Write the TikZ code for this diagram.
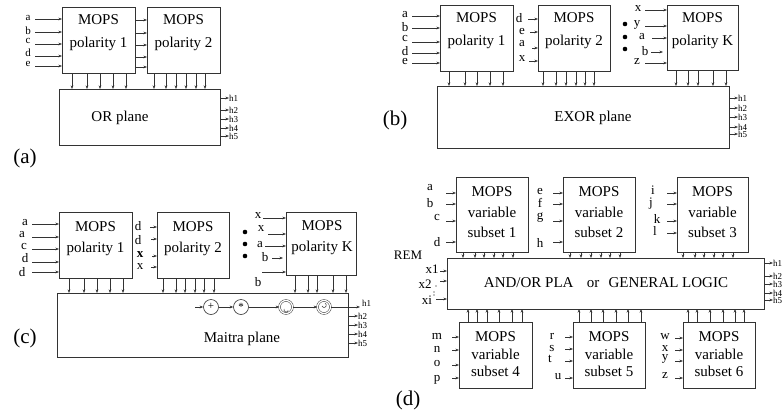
\documentclass[tikz,border=0pt]{standalone}
\usepackage{fontspec}
\setmainfont{Liberation Serif}
\usetikzlibrary{arrows.meta}
\tikzset{
  bx/.style={draw=black!80, line width=0.9pt, inner sep=0pt, outer sep=0pt},
  arr/.style={draw=black!80, line width=0.6pt, -{Stealth[length=3.6pt,width=2.8pt]}},
  bt/.style={inner sep=0pt, font=\fontsize{15}{18}\selectfont},
  lbl/.style={inner sep=0pt, font=\fontsize{13}{13}\selectfont},
  lbla/.style={inner sep=0pt, font=\fontsize{11}{11}\selectfont},
  hl/.style={inner sep=0pt, font=\fontsize{9}{9}\selectfont},
  panel/.style={inner sep=0pt, font=\fontsize{21}{21}\selectfont},
  dotn/.style={circle, fill=black, inner sep=0pt, minimum size=4.6pt},
  sdot/.style={circle, fill=black, inner sep=0pt, minimum size=1.3pt},
  op/.style={circle, draw=black!80, line width=0.6pt, inner sep=0pt, minimum size=15pt, font=\fontsize{11}{11}\selectfont},
  dop/.style={circle, draw=black!80, line width=0.5pt, double, double distance=1.3pt, inner sep=0pt, minimum size=13pt},
}
% box from corner (x1,y1) to (x2,y2)
\newcommand\bxnode[5]{\node[bx, anchor=north west, minimum width={#4-#2}, minimum height={#5-#3}] (#1) at (#2,#3) {};}
% input: name, box, label x, label y, arrow start x, arrow y, text, label style
\newcommand\inp[8]{%
  \node[#8] (#1) at (#3,#4) {#7};
  \coordinate (#1s) at (#5,#6);
  \draw[arr] (#1s) -- (#1s -| #2.west);}
\begin{document}
\begin{tikzpicture}[x=1pt, y=-1pt]
\useasboundingbox (0,0) rectangle (784,415);

% ================= (a) =================
\bxnode{A1}{62}{7}{135}{73}
\bxnode{A2}{147}{7}{220}{73}
\bxnode{ORP}{59}{89}{220}{145}
\node[bt] (A1m) at (98.5,20) {MOPS};
\node[bt] (A1p) at (98.5,44) {polarity 1};
\node[bt] (A2m) at (183.5,20) {MOPS};
\node[bt] (A2p) at (183.5,44) {polarity 2};
\node[bt] (ORt) at (120,118) {OR plane};
\node[panel] (pa) at (25,158) {(a)};
\inp{ia}{A1}{28}{18}{35}{19}{a}{lbla}
\inp{ib}{A1}{28}{31}{35}{32}{b}{lbla}
\inp{ic}{A1}{28}{41}{35}{44}{c}{lbla}
\inp{id}{A1}{28}{53}{35}{56}{d}{lbla}
\inp{ie}{A1}{28}{64}{35}{66}{e}{lbla}
\foreach \y in {20,33,45,57,67} \draw[arr] (A1.east |- 0,\y) -- (A2.west |- 0,\y);
\foreach \x in {72,87,100,113,126,154,166,176,186,196,205}
  \draw[arr] (\x,0 |- A1.south) -- (\x,0 |- ORP.north);
\foreach \y/\t [count=\i] in {98/h1,110/h2,119/h3,128/h4,136/h5} {
  \node[hl, anchor=west] (Ah\i) at (229,\y) {\t};
  \draw[arr] (ORP.east |- Ah\i.west) -- (Ah\i.west);}

% ================= (b) =================
\bxnode{B1}{440}{5}{513}{71}
\bxnode{B2}{538}{5}{610}{71}
\bxnode{BK}{667}{5}{738}{70}
\bxnode{EXP}{437}{86}{729}{148}
\node[bt] (B1m) at (476.5,18) {MOPS};
\node[bt] (B1p) at (476.5,42) {polarity 1};
\node[bt] (B2m) at (574,18) {MOPS};
\node[bt] (B2p) at (574,42) {polarity 2};
\node[bt] (BKm) at (702.5,18) {MOPS};
\node[bt] (BKp) at (702.5,42) {polarity K};
\node[bt] (EXt) at (593,118) {EXOR plane};
\node[panel] (pb) at (395,120) {(b)};
\inp{ba}{B1}{405}{15}{412}{16}{a}{lbl}
\inp{bb}{B1}{405}{27}{412}{28}{b}{lbl}
\inp{bc}{B1}{405}{38}{412}{42}{c}{lbl}
\inp{bd}{B1}{405}{51}{412}{53}{d}{lbl}
\inp{be}{B1}{405}{62}{412}{63}{e}{lbl}
\inp{b2d}{B2}{519}{18}{528}{19}{d}{lbl}
\inp{b2e}{B2}{522}{31}{530}{32}{e}{lbl}
\inp{b2a}{B2}{522}{44}{532}{48}{a}{lbl}
\inp{b2x}{B2}{522}{59}{529}{61}{x}{lbl}
\inp{bkx}{BK}{638}{9}{645}{10}{x}{lbl}
\inp{bky}{BK}{637}{25}{645}{26}{y}{lbl}
\inp{bka}{BK}{642}{37}{652}{38}{a}{lbl}
\node[lbl] (bkb) at (645,51) {b};
\coordinate (bkbs) at (651,52);
\coordinate (bkbe) at (663,52);
\draw[arr] (bkbs) -- (bkbe);
\inp{bkz}{BK}{637}{62}{645}{63}{z}{lbl}
\node[dotn] (bdot1) at (625,24) {};
\node[dotn] (bdot2) at (625,37) {};
\node[dotn] (bdot3) at (625,49) {};
\foreach \x in {449,465,477,490,503} \draw[arr] (\x,0 |- B1.south) -- (\x,0 |- EXP.north);
\foreach \x in {543,556,566,576,585,594} \draw[arr] (\x,0 |- B2.south) -- (\x,0 |- EXP.north);
\foreach \x in {676,688,698,713,726} \draw[arr] (\x,0 |- BK.south) -- (\x,0 |- EXP.north);
\foreach \y/\t [count=\i] in {98/h1,108/h2,117/h3,127/h4,134/h5} {
  \node[hl, anchor=west] (Bh\i) at (738,\y) {\t};
  \draw[arr] (EXP.east |- Bh\i.west) -- (Bh\i.west);}

% ================= (c) =================
\bxnode{C1}{59}{212}{132}{278}
\bxnode{C2}{157}{212}{229}{278}
\bxnode{CK}{286}{212}{356}{275}
\bxnode{MP}{57}{293}{348}{357}
\node[bt] (C1m) at (95.5,227) {MOPS};
\node[bt] (C1p) at (95.5,249) {polarity 1};
\node[bt] (C2m) at (193,227) {MOPS};
\node[bt] (C2p) at (193,249) {polarity 2};
\node[bt] (CKm) at (322,226) {MOPS};
\node[bt] (CKp) at (322,248) {polarity K};
\node[bt] (MPt) at (242,339) {Maitra plane};
\node[panel] (pc) at (25,338) {(c)};
\inp{ca}{C1}{25}{223}{32}{224}{a}{lbl}
\inp{ca2}{C1}{22}{235}{32}{237}{a}{lbl}
\inp{cc}{C1}{24}{246}{32}{249}{c}{lbl}
\inp{cd}{C1}{25}{258}{32}{262}{d}{lbl}
\inp{cd2}{C1}{22}{272}{32}{272}{d}{lbl}
\inp{c2d}{C2}{138}{226}{150}{227}{d}{lbl}
\inp{c2d2}{C2}{138}{240}{151}{239}{d}{lbl}
\inp{c2x}{C2}{140}{255}{152}{256}{\textbf{x}}{lbl}
\inp{c2x2}{C2}{140}{267}{151}{267}{x}{lbl}
\inp{ckx}{CK}{258}{216}{263}{218}{x}{lbl}
\inp{ckx2}{CK}{261}{229}{268}{234}{x}{lbl}
\inp{cka}{CK}{260}{245}{265}{246}{a}{lbl}
\node[lbl] (ckb) at (265,257) {b};
\coordinate (ckbs) at (272,258);
\coordinate (ckbe) at (283,258);
\draw[arr] (ckbs) -- (ckbe);
\inp{ckb2}{CK}{258}{282}{262}{272}{b}{lbl}
\node[dotn] (cdot1) at (245,232) {};
\node[dotn] (cdot2) at (245,244) {};
\node[dotn] (cdot3) at (245,256) {};
\foreach \x in {69,84,97,110,123} \draw[arr] (\x,0 |- C1.south) -- (\x,0 |- MP.north);
\foreach \x in {163,176,185,195,204,214} \draw[arr] (\x,0 |- C2.south) -- (\x,0 |- MP.north);
\foreach \x in {295,308,317,333,346} \draw[arr] (\x,0 |- CK.south) -- (\x,0 |- MP.north);
% chain of operators
\coordinate (cs) at (195,307);
\node[op] (cplus) at (211,307) {\raisebox{0.5pt}{+}};
\node[op] (cstar) at (241,307) {\raisebox{-2pt}{*}};
\node[dop] (cd1) at (286,307) {};
\node[dop] (cd2) at (324,307) {};
\draw[black!80, line width=0.5pt] (cd1.center) ++(-2,2) arc[start angle=200, end angle=20, radius=2.2];
\draw[black!80, line width=0.5pt] (cd2.center) ++(-2,-1) arc[start angle=160, end angle=-60, radius=2.2];
\node[hl, anchor=west] (Ch1) at (362,303) {h1};
\coordinate (ce) at (360,307);
\draw[arr] (cs) -- (cplus);
\draw[arr] (cplus) -- (cstar);
\draw[arr] (cstar) -- (cd1);
\draw[arr] (cd1) -- (cd2);
\draw[arr] (cd2) -- (ce);
\foreach \y/\t [count=\i] in {316/h2,325/h3,334/h4,343/h5} {
  \node[hl, anchor=west] (Ch\i) at (358,\y) {\t};
  \draw[arr] (MP.east |- Ch\i.west) -- (Ch\i.west);}

% ================= (d) =================
\bxnode{D1}{456}{177}{528}{252}
\bxnode{D2}{563}{177}{635}{252}
\bxnode{D3}{677}{177}{748}{252}
\bxnode{PLA}{447}{258}{764}{309}
\bxnode{D4}{459}{322}{532}{388}
\bxnode{D5}{573}{322}{645}{388}
\bxnode{D6}{683}{322}{755}{388}
\foreach \n/\x/\k in {D1/492/1,D2/599/2,D3/712.5/3} {
  \node[bt] (\n m) at (\x,192) {MOPS};
  \node[bt] (\n v) at (\x,212) {variable};
  \node[bt] (\n s) at (\x,232) {subset \k};}
\foreach \n/\x/\k in {D4/495.5/4,D5/609/5,D6/719/6} {
  \node[bt] (\n m) at (\x,337) {MOPS};
  \node[bt] (\n v) at (\x,354) {variable};
  \node[bt] (\n s) at (\x,371) {subset \k};}
\node[bt] (PLAt) at (606,283) {AND/OR PLA\hspace{0.9em}or\hspace{0.6em}GENERAL LOGIC};
\node[panel] (pd) at (408,400) {(d)};
% top inputs
\inp{da}{D1}{430}{188}{446}{193}{a}{lbl}
\inp{db}{D1}{430}{203}{446}{204}{b}{lbl}
\inp{dc}{D1}{437}{217}{446}{221}{c}{lbl}
\inp{dd}{D1}{437}{242}{446}{242}{d}{lbl}
\inp{de}{D2}{540}{191}{553}{193}{e}{lbl}
\inp{df}{D2}{540}{203}{553}{204}{f}{lbl}
\inp{dg}{D2}{540}{218}{553}{221}{g}{lbl}
\inp{dh}{D2}{540}{243}{553}{242}{h}{lbl}
\inp{di}{D3}{653}{190}{667}{193}{i}{lbl}
\inp{dj}{D3}{651}{204}{667}{204}{j}{lbl}
\inp{dk}{D3}{657}{219}{667}{221}{k}{lbl}
\inp{dl}{D3}{655}{231}{667}{233}{l}{lbl}
% bottom inputs
\inp{dm}{D4}{437}{336}{452}{337}{m}{lbl}
\inp{dn}{D4}{437}{349}{452}{350}{n}{lbl}
\inp{do}{D4}{437}{363}{452}{365}{o}{lbl}
\inp{dp}{D4}{437}{380}{452}{378}{p}{lbl}
\inp{dr}{D5}{552}{336}{565}{337}{r}{lbl}
\inp{ds}{D5}{552}{348}{565}{349}{s}{lbl}
\inp{dt}{D5}{550}{359}{565}{361}{t}{lbl}
\inp{du}{D5}{558}{377}{565}{378}{u}{lbl}
\inp{dw}{D6}{665}{337}{675}{338}{w}{lbl}
\inp{dx}{D6}{665}{349}{675}{350}{x}{lbl}
\inp{dy}{D6}{665}{359}{675}{361}{y}{lbl}
\inp{dz}{D6}{665}{376}{675}{378}{z}{lbl}
% left inputs
\node[lbl] (REM) at (408,255) {REM};
\inp{dx1}{PLA}{432}{269}{440}{271}{x1}{lbl}
\inp{dx2}{PLA}{425}{284}{440}{281}{x2}{lbl}
\inp{dxi}{PLA}{427}{300}{436}{299}{xi}{lbl}
\node[sdot] (sd1) at (436,286) {};
\node[sdot] (sd2) at (434,292) {};
\node[sdot] (sd3) at (434,295) {};
% arrows into PLA
\foreach \x in {463,475,484,494,503,513} \draw[arr] (\x,0 |- D1.south) -- (\x,0 |- PLA.north);
\foreach \x in {570,581,591,601,610,620} \draw[arr] (\x,0 |- D2.south) -- (\x,0 |- PLA.north);
\foreach \x in {683,695,704,714,723,733} \draw[arr] (\x,0 |- D3.south) -- (\x,0 |- PLA.north);
\foreach \x in {468,477,487,499,512,522} \draw[arr] (\x,0 |- D4.north) -- (\x,0 |- PLA.south);
\foreach \x in {579,591,603,616,628,641} \draw[arr] (\x,0 |- D5.north) -- (\x,0 |- PLA.south);
\foreach \x in {688,697,710,723,735,744} \draw[arr] (\x,0 |- D6.north) -- (\x,0 |- PLA.south);
\foreach \y/\t [count=\i] in {263/h1,276/h2,284/h3,293/h4,300/h5} {
  \node[hl, anchor=west] (Dh\i) at (773,\y) {\t};
  \draw[arr] (PLA.east |- Dh\i.west) -- (Dh\i.west);}
\end{tikzpicture}
\end{document}
